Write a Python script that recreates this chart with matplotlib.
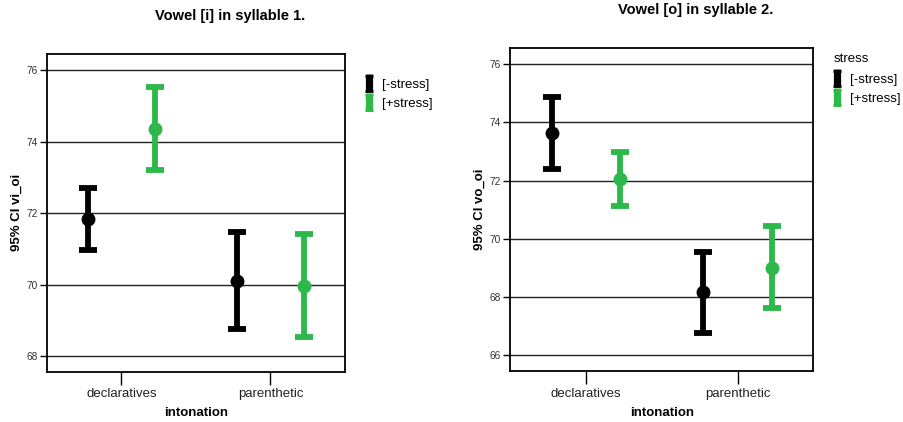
import matplotlib
matplotlib.use("Agg")
import matplotlib.pyplot as plt
from matplotlib.lines import Line2D
from matplotlib.legend_handler import HandlerBase
import numpy as np

plt.rcParams['font.family'] = ['Liberation Sans', 'DejaVu Sans']

categories = ["declaratives", "parenthetic"]
groups = ["[-stress]", "[+stress]"]
colors = ["#000000", "#2db84a"]

# Vowel [i], syllable 1: means and 95% CI bounds per stress group
i_mean = {"[-stress]": [71.85, 70.12], "[+stress]": [74.36, 69.97]}
i_low = {"[-stress]": [70.97, 68.77], "[+stress]": [73.20, 68.55]}
i_high = {"[-stress]": [72.71, 71.47], "[+stress]": [75.53, 71.42]}

# Vowel [o], syllable 2
o_mean = {"[-stress]": [73.63, 68.17], "[+stress]": [72.06, 69.00]}
o_low = {"[-stress]": [72.41, 66.78], "[+stress]": [71.13, 67.61]}
o_high = {"[-stress]": [74.87, 69.53], "[+stress]": [72.97, 70.43]}

i_ticks = [68, 70, 72, 74, 76]
o_ticks = [66, 68, 70, 72, 74, 76]

LEG_FS = 9.5
LEG_SPACING = 0.4


class VBarHandler(HandlerBase):
    """Legend key drawn as a short vertical error bar."""
    def create_artists(self, legend, orig_handle, xdescent, ydescent,
                       width, height, fontsize, trans):
        color = orig_handle.get_color()
        cx = -xdescent + width / 2
        ext = LEG_SPACING * fontsize / 2
        y0 = -ydescent - ext
        y1 = -ydescent + height + ext
        stem = Line2D([cx, cx], [y0, y1], color=color, lw=5.2,
                      solid_capstyle='butt', transform=trans)
        caps = []
        for yy in (y0 + 1.0, y1 - 1.0):
            caps.append(Line2D([cx - 3.0, cx + 3.0], [yy, yy], color=color,
                               lw=2.0, solid_capstyle='butt', transform=trans))
        return [stem] + caps


fig = plt.figure(figsize=(9.04, 4.22), dpi=100)


def draw_panel(rect, mean, low, high, ticks, ylim, ylabel, title, title_xy,
               legend_title=None, legend_xy=None):
    ax = fig.add_axes(rect)
    x = np.arange(len(categories))
    offsets = [-0.225, 0.225]
    for g, off, c in zip(groups, offsets, colors):
        m = np.array(mean[g])
        lo = np.array(low[g])
        hi = np.array(high[g])
        ax.errorbar(x + off, m, yerr=[m - lo, hi - m], fmt='o', color=c,
                    ms=9, elinewidth=4.2, capsize=6.2, capthick=4.2,
                    zorder=3)
    for t in ticks:
        ax.axhline(t, color='#222222', lw=1.0, zorder=1)
    ax.set_xlim(-0.5, 1.5)
    ax.set_ylim(*ylim)
    ax.set_yticks(ticks)
    ax.set_yticklabels([str(t) for t in ticks], fontsize=7.3, color='#333333')
    ax.set_xticks(x)
    ax.set_xticklabels(categories, fontsize=9.5, color='#222222')
    ax.tick_params(axis='y', length=5, width=1, pad=1.5)
    ax.tick_params(axis='x', length=9, width=1, pad=3)
    for s in ax.spines.values():
        s.set_linewidth(1.3)
    ax.set_xlabel("intonation", fontsize=9.5, fontweight='bold', labelpad=5)
    ax.set_ylabel(ylabel, fontsize=9.5, fontweight='bold', labelpad=3)
    fig.text(title_xy[0], title_xy[1], title, ha='center', va='center',
             fontsize=10.5, fontweight='bold')
    handles = [Line2D([], [], color=c) for c in colors]
    leg = ax.legend(handles, groups, loc='upper left',
                    bbox_to_anchor=legend_xy, bbox_transform=fig.transFigure,
                    frameon=False, fontsize=LEG_FS, title=legend_title,
                    title_fontsize=LEG_FS, handlelength=0.5, handleheight=1.1,
                    handletextpad=0.7, labelspacing=LEG_SPACING, borderpad=0,
                    borderaxespad=0,
                    handler_map={Line2D: VBarHandler()})
    if legend_title:
        leg._legend_box.align = "left"
        leg._legend_box.sep = 5
    return ax


draw_panel([0.052, 0.1192, 0.3296, 0.7528], i_mean, i_low, i_high, i_ticks,
           (67.57, 76.456), "95% CI vi_oi", "Vowel [i] in syllable 1.",
           (230 / 904, 1 - 16 / 422), legend_xy=(366 / 904, 1 - 77 / 422))

draw_panel([0.5642, 0.1209, 0.3355, 0.7647], o_mean, o_low, o_high, o_ticks,
           (65.46, 76.54), "95% CI vo_oi", "Vowel [o] in syllable 2.",
           (696 / 904, 1 - 10 / 422), legend_title="stress",
           legend_xy=(834 / 904, 1 - 53 / 422))

fig.savefig("out.png", dpi=100)
